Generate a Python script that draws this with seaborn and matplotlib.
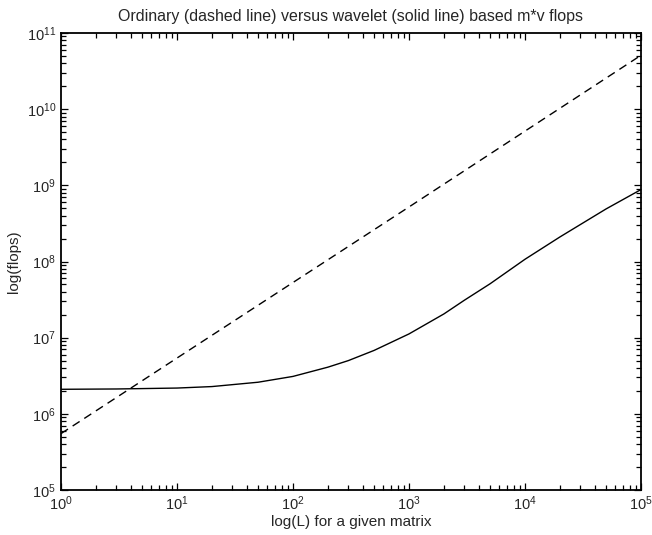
import numpy as np
import pandas as pd
import matplotlib
matplotlib.use("Agg")
import matplotlib.pyplot as plt
import matplotlib.ticker as mticker
import seaborn as sns

# values
L_dashed = [1, 10, 100, 1000, 10000, 100000]
flops_dashed = [5.5e5, 5.4e6, 5.3e7, 5.2e8, 5.15e9, 5.1e10]

L_solid = [1, 3, 10, 20, 50, 100, 200, 300, 500, 1000, 2000, 3000, 5000,
           10000, 20000, 50000, 100000]
flops_solid = [2.10e6, 2.12e6, 2.18e6, 2.28e6, 2.6e6, 3.1e6, 4.1e6, 5.0e6, 6.8e6,
               1.12e7, 2.05e7, 3.1e7, 5.1e7, 1.07e8, 2.1e8, 4.9e8, 8.8e8]

title = "Ordinary (dashed line) versus wavelet (solid line) based m*v flops"
xlabel = "log(L) for a given matrix"
ylabel = "log(flops)"

sns.set_style("ticks")
plt.rcParams['font.family'] = ['Liberation Sans', 'DejaVu Sans']
plt.rcParams['mathtext.fontset'] = 'custom'
plt.rcParams['mathtext.rm'] = 'Liberation Sans'
plt.rcParams['mathtext.it'] = 'Liberation Sans'
plt.rcParams['xtick.minor.size'] = 3.5
plt.rcParams['ytick.minor.size'] = 3.5
plt.rcParams['xtick.minor.width'] = 0.9
plt.rcParams['ytick.minor.width'] = 0.9

df_d = pd.DataFrame({"L": L_dashed, "flops": flops_dashed})
df_s = pd.DataFrame({"L": L_solid, "flops": flops_solid})

fig = plt.figure(figsize=(6.52, 5.35), dpi=100)
ax = fig.add_axes([61/652, 45/535, 580/652, 457/535])

sns.lineplot(data=df_d, x="L", y="flops", ax=ax, color="black", lw=1.0,
             linestyle=(0, (6, 4)))
sns.lineplot(data=df_s, x="L", y="flops", ax=ax, color="black", lw=1.0)

ax.set_xscale("log")
ax.set_yscale("log")
ax.set_xlim(1, 1e5)
ax.set_ylim(1e5, 1e11)

# minor ticks at 2..9 of every decade
xminor = [m * 10.0**d for d in range(0, 5) for m in range(2, 10)]
yminor = [m * 10.0**d for d in range(5, 11) for m in range(2, 10)]
ax.xaxis.set_minor_locator(mticker.FixedLocator(xminor))
ax.yaxis.set_minor_locator(mticker.FixedLocator(yminor))
ax.xaxis.set_minor_formatter(mticker.NullFormatter())
ax.yaxis.set_minor_formatter(mticker.NullFormatter())

ax.set_title(title, fontsize=11.5, pad=9)
ax.set_xlabel(xlabel, fontsize=11, labelpad=1)
ax.set_ylabel(ylabel, fontsize=11, labelpad=4)

for s in ax.spines.values():
    s.set_linewidth(1.3)
    s.set_color("black")
ax.tick_params(which="both", direction="in", top=True, right=True,
               bottom=True, left=True, labelsize=10.5, color="black")
ax.tick_params(which="major", length=5, width=0.9)
ax.tick_params(which="minor", length=3.5, width=0.9)
ax.grid(False)

fig.savefig("out.png", dpi=100)
